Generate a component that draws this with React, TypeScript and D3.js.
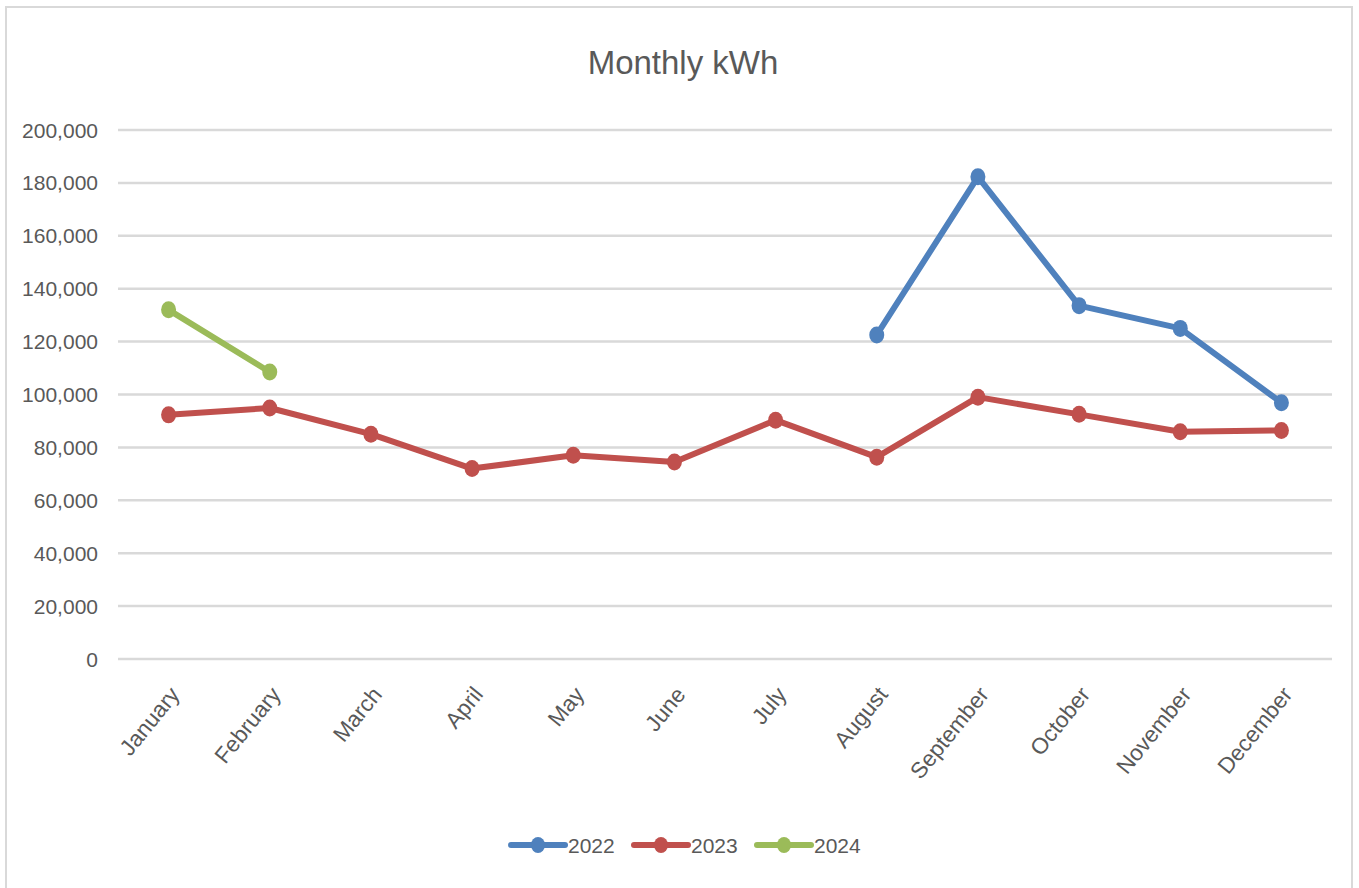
import React from 'react';
import * as d3 from 'd3';

const months = ["January", "February", "March", "April", "May", "June", "July", "August", "September", "October", "November", "December"];
const yTicks = [0, 20000, 40000, 60000, 80000, 100000, 120000, 140000, 160000, 180000, 200000];
const seriesNames = ["2022", "2023", "2024"];
const colors = ["#4f81bd", "#c0504d", "#9bbb59"];

// null = no reading for that month
const kwh2022 = [null, null, null, null, null, null, null, 122500, 182300, 133600, 125000, 96900];
const kwh2023 = [92300, 94900, 85000, 72000, 77000, 74500, 90300, 76300, 99000, 92500, 85900, 86400];
const kwh2024 = [132000, 108500, null, null, null, null, null, null, null, null, null, null];
const allSeries = [kwh2022, kwh2023, kwh2024];

const font = "'Liberation Sans', Arial, sans-serif";
const textColor = "#595959";

export default function App() {
  const width = 1359, height = 888;
  const left = 118, right = 1332, top = 130, bottom = 659;

  const x = d3.scaleBand<string>().domain(months).range([left, right]);
  const y = d3.scaleLinear().domain([0, 200000]).range([bottom, top]);
  const fmt = d3.format(",");

  const line = d3.line<number | null>()
    .defined(d => d != null)
    .x((d, i) => x(months[i])! + x.bandwidth() / 2)
    .y(d => y(d as number));

  const legendX = d3.scalePoint<string>().domain(seriesNames).range([511, 757]);

  return (
    <svg width={width} height={height} style={{ position: 'absolute', left: 0, top: 0, background: '#fff' }} fontFamily={font}>
      <rect x={6} y={7} width={1346} height={900} fill="#fff" stroke="#d9d9d9" strokeWidth={2} />
      <text x={683} y={74} textAnchor="middle" fontSize={33} fill={textColor}>Monthly kWh</text>

      {yTicks.map(t => (
        <g key={t}>
          <line x1={left} x2={right} y1={y(t)} y2={y(t)} stroke="#d9d9d9" strokeWidth={2.5} />
          <text x={98} y={y(t)} dy="0.36em" textAnchor="end" fontSize={21} fill={textColor}>{fmt(t)}</text>
        </g>
      ))}

      {months.map(m => {
        const cx = x(m)! + x.bandwidth() / 2 + 6;
        return (
          <text key={m} transform={`translate(${cx},690) rotate(-51)`} textAnchor="end" dy="0.35em" fontSize={22.5} fill={textColor}>{m}</text>
        );
      })}

      {allSeries.map((s, k) => (
        <g key={seriesNames[k]}>
          <path d={line(s) || ""} fill="none" stroke={colors[k]} strokeWidth={6} strokeLinejoin="round" strokeLinecap="round" />
          {s.map((v, i) => v == null ? null : (
            <ellipse key={i} cx={x(months[i])! + x.bandwidth() / 2} cy={y(v)} rx={7.5} ry={8.5} fill={colors[k]} />
          ))}
        </g>
      ))}

      {seriesNames.map((n, k) => {
        const lx = legendX(n)!;
        return (
          <g key={n}>
            <line x1={lx} x2={lx + 54} y1={845} y2={845} stroke={colors[k]} strokeWidth={6} strokeLinecap="round" />
            <ellipse cx={lx + 27} cy={845} rx={7} ry={8} fill={colors[k]} />
            <text x={lx + 57} y={845} dy="0.36em" fontSize={21} fill={textColor}>{n}</text>
          </g>
        );
      })}
    </svg>
  );
}
